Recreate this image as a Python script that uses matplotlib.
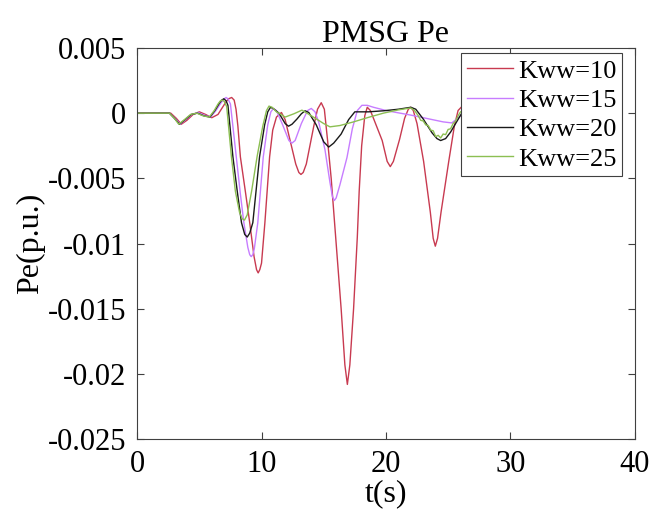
"""PMSG Pe response for several Kww gains (MATLAB-style figure)."""
import numpy as np
import matplotlib
matplotlib.use("Agg")
import matplotlib.pyplot as plt

# values, Pe in units of 1e-3 p.u.
t_10 = [0, 2.7, 3.15, 3.55, 4.0, 4.5, 5.0, 5.5, 6.0, 6.5, 6.8, 7.1, 7.35, 7.6, 7.8, 7.95,
        8.1, 8.3, 8.7, 9.05, 9.4, 9.6, 9.73, 9.86, 10.0, 10.27, 10.65, 10.9, 11.2, 11.6,
        11.9, 12.3, 12.75, 13.0, 13.17, 13.35, 13.6, 14.2, 14.5, 14.8, 15.05, 15.3, 15.6,
        16.0, 16.4, 16.7, 16.9, 17.1, 17.4, 17.7, 17.85, 18.05, 18.3, 18.5, 18.75, 19.0,
        19.7, 20.1, 20.35, 20.6, 21.1, 21.5, 21.8, 22.0, 22.2, 22.5, 23.03, 23.57, 23.8,
        23.97, 24.15, 24.43, 25.05, 25.5, 25.8, 26.1]
pe_10 = [0, 0, -0.4, -0.85, -0.55, -0.1, 0.1, -0.1, -0.35, -0.1, 0.35, 0.8, 1.1, 1.2,
         1.0, 0.3, -1.0, -3.35, -6.0, -8.4, -11.0, -12.0, -12.25, -12.0, -11.5, -8.4,
         -3.35, -1.3, -0.3, 0.05, -0.5, -2.1, -3.9, -4.55, -4.7, -4.55, -3.9, -1.0, 0.3,
         0.8, 0.3, -2.0, -5.0, -10.0, -15.0, -19.3, -20.8, -19.3, -15.0, -9.5, -6.0,
         -2.5, -0.2, 0.45, 0.2, -0.4, -2.1, -3.7, -4.1, -3.7, -2.0, -0.4, 0.3, 0.45, 0.2,
         -0.8, -3.7, -7.6, -9.6, -10.2, -9.6, -7.6, -3.7, -1.0, 0.2, 0.5]

t_15 = [0, 2.6, 3.05, 3.45, 3.9, 4.4, 4.9, 5.4, 5.9, 6.3, 6.75, 7.0, 7.15, 7.3, 7.5, 7.97,
        8.3, 8.58, 8.9, 9.05, 9.17, 9.3, 9.42, 9.7, 10.14, 10.5, 10.75, 10.95, 11.2, 11.7,
        12.2, 12.44, 12.7, 13.2, 13.7, 14.0, 14.3, 14.6, 15.1, 15.5, 15.7, 15.85, 16.0,
        16.3, 16.87, 17.3, 17.7, 18.07, 18.5, 19.0, 20.1, 22.0, 23.5, 24.6, 25.3, 26.0]
pe_15 = [0, 0, -0.4, -0.85, -0.5, -0.1, 0.05, -0.15, -0.3, 0.15, 0.8, 1.1, 1.2, 1.1,
         0.7, -3.35, -6.2, -8.4, -10.3, -10.85, -11.0, -10.85, -10.4, -8.4, -3.35, -0.9,
         0.1, 0.35, 0.2, -0.9, -2.1, -2.3, -2.1, -0.8, 0.2, 0.36, 0.1, -0.7, -2.8, -5.3,
         -6.4, -6.7, -6.5, -5.5, -3.4, -1.2, 0.2, 0.6, 0.6, 0.45, 0.18, -0.15, -0.45,
         -0.67, -0.75, -0.2]

t_20 = [0, 2.6, 3.0, 3.4, 3.85, 4.35, 4.85, 5.35, 5.85, 6.25, 6.6, 6.8, 6.97, 7.15, 7.3,
        7.7, 8.05, 8.39, 8.65, 8.85, 9.05, 9.3, 9.84, 10.25, 10.5, 10.72, 10.95, 11.4,
        11.9, 12.17, 12.45, 12.85, 13.2, 13.5, 13.8, 14.4, 15.0, 15.4, 15.8, 16.4, 17.0,
        17.5, 18.6, 19.8, 21.0, 22.0, 22.4, 23.0, 23.7, 24.1, 24.4, 24.8, 25.2, 25.6, 26.1]
pe_20 = [0, 0, -0.4, -0.85, -0.5, -0.1, 0.0, -0.2, -0.3, 0.2, 0.75, 1.0, 1.1, 0.95,
         0.6, -3.35, -6.0, -8.4, -9.3, -9.5, -9.2, -8.4, -3.35, -0.9, 0.1, 0.45, 0.35,
         0.0, -0.8, -1.0, -0.85, -0.45, -0.05, 0.18, 0.05, -0.9, -2.2, -2.6, -2.3, -1.6,
         -0.5, 0.1, 0.1, 0.18, 0.3, 0.45, 0.3, -0.45, -1.5, -1.95, -2.1, -1.95, -1.45,
         -0.8, 0.0]

t_25 = [0, 2.6, 3.0, 3.35, 3.8, 4.3, 4.8, 5.3, 5.8, 6.2, 6.5, 6.7, 6.85, 7.0, 7.2, 7.58,
        7.9, 8.23, 8.45, 8.63, 8.85, 9.2, 9.65, 10.1, 10.4, 10.6, 10.85, 11.2, 11.9, 12.6,
        13.25, 14.0, 15.0, 15.5, 16.3, 17.4, 18.5, 19.8, 21.0, 22.0, 22.3, 22.6, 22.8,
        23.0, 23.2, 23.4, 23.6, 23.8, 24.0, 24.2, 24.4, 24.6, 24.8, 25.0, 25.2, 25.4,
        25.6, 25.8, 26.0]
pe_25 = [0, 0, -0.4, -0.85, -0.5, -0.1, 0.0, -0.2, -0.3, 0.2, 0.7, 0.95, 1.0, 0.9, 0.5,
         -3.35, -6.0, -7.6, -8.1, -8.2, -7.8, -6.0, -3.3, -1.0, 0.2, 0.54, 0.45, 0.1,
         -0.3, -0.05, 0.23, -0.2, -0.8, -1.05, -0.95, -0.67, -0.35, 0.0, 0.25, 0.4, 0.2,
         -0.2, -0.55, -0.6, -0.9, -0.95, -1.3, -1.35, -1.8, -1.7, -1.9, -1.6, -1.65,
         -1.25, -1.2, -0.8, -0.6, -0.2, 0.1]

labels = ["Kww=10", "Kww=15", "Kww=20", "Kww=25"]
colors = ["#c83a50", "#c77dff", "#1a1a1a", "#8cbf52"]

plt.rcParams["font.family"] = ["Liberation Serif", "DejaVu Serif"]
plt.rcParams["axes.unicode_minus"] = False

fig = plt.figure(figsize=(6.53, 5.21), dpi=100)
ax = fig.add_axes([0.21, 0.157, 0.762, 0.751])

series = [(t_10, pe_10), (t_15, pe_15), (t_20, pe_20), (t_25, pe_25)]
for (t, pe), lab, c in zip(series, labels, colors):
    ax.plot(t, np.array(pe) * 1e-3, color=c, lw=1.0, label=lab)

ax.set_xlim(0, 40)
ax.set_ylim(-0.025, 0.005)
ax.set_xticks([0, 10, 20, 30, 40])
ax.set_yticks(np.arange(-0.025, 0.0051, 0.005))
ax.set_yticklabels(["-0.025", "-0.02", "-0.015", "-0.01", "-0.005", "0", "0.005"])
ax.tick_params(direction="in", top=True, right=True, labelsize=22, length=5,
               width=0.8, color="#404040", pad=8)
for s in ax.spines.values():
    s.set_color("#404040")
    s.set_linewidth(0.8)

ax.set_title("PMSG Pe", fontsize=23, pad=4)
ax.set_xlabel("t(s)", fontsize=23, labelpad=0)
ax.set_ylabel("Pe(p.u.)", fontsize=23, labelpad=2)

leg = ax.legend(loc="upper right", bbox_to_anchor=(0.975, 0.986), borderaxespad=0,
                fontsize=19, fancybox=False, framealpha=1, edgecolor="#404040",
                handlelength=1.75, handletextpad=0.2, labelspacing=0.22, borderpad=0.22)
leg.get_frame().set_linewidth(0.8)

fig.savefig("out.png", dpi=100)
